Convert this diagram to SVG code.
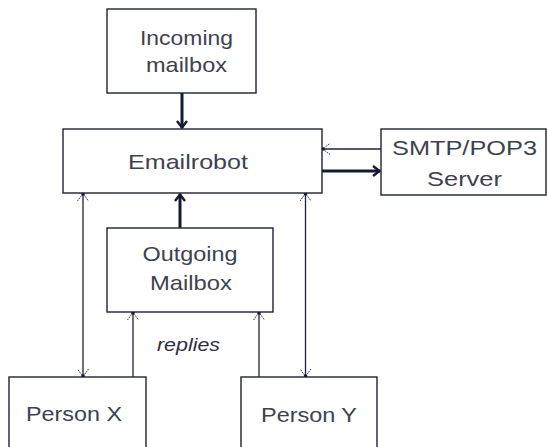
<svg xmlns="http://www.w3.org/2000/svg" width="548" height="447" viewBox="0 0 548 447">
  <style>
    .box { fill: #ffffff; stroke: #1e2238; stroke-width: 1.4; }
    .lbl { font-family: "Liberation Sans", Arial, sans-serif; font-size: 21px; fill: #3e4250; text-anchor: middle; }
    .note { font-family: "Liberation Sans", Arial, sans-serif; font-size: 18px; font-style: italic; fill: #2e3240; text-anchor: middle; }
    .thin { fill: none; stroke: #1e2238; stroke-width: 1.3; }
    .thick { fill: none; stroke: #161a30; stroke-width: 3; }
  </style>
  <defs>
    <!-- light open arrowhead with a dot at the tip, for thin connectors -->
    <marker id="tipThin" viewBox="-10 -6 12 12" refX="0" refY="0" markerWidth="12" markerHeight="12" markerUnits="userSpaceOnUse" orient="auto-start-reverse">
      <path d="M -8 -5.5 L -0.5 0 L -8 5.5" fill="none" stroke="#2a2e44" stroke-width="1" stroke-dasharray="1.6 1"/>
      <circle cx="-1" cy="0" r="1.8" fill="#161a30"/>
    </marker>
    <!-- solid open arrowhead for thick connectors -->
    <marker id="tipThick" viewBox="-10 -6 12 12" refX="0" refY="0" markerWidth="12" markerHeight="12" markerUnits="userSpaceOnUse" orient="auto">
      <path d="M -7 -5 L -0.5 0 L -7 5" fill="none" stroke="#161a30" stroke-width="2.4"/>
    </marker>
  </defs>

  <g id="connectors">
    <line class="thick" x1="182" y1="93" x2="182" y2="128" marker-end="url(#tipThick)"/>
    <line class="thin" x1="381" y1="149" x2="322" y2="149" marker-end="url(#tipThin)"/>
    <line class="thick" x1="322" y1="171" x2="380" y2="171" marker-end="url(#tipThick)"/>
    <line class="thick" x1="180" y1="228" x2="180" y2="194" marker-end="url(#tipThick)"/>
    <line class="thin" x1="83" y1="193" x2="83" y2="377" marker-start="url(#tipThin)" marker-end="url(#tipThin)"/>
    <line class="thin" x1="133" y1="377" x2="133" y2="312" marker-end="url(#tipThin)"/>
    <line class="thin" x1="259" y1="377" x2="259" y2="312" marker-end="url(#tipThin)"/>
    <line class="thin" x1="305.5" y1="193" x2="305.5" y2="377" marker-start="url(#tipThin)" marker-end="url(#tipThin)"/>
  </g>

  <g id="incoming-mailbox">
    <rect class="box" x="107" y="9" width="149" height="84"/>
    <text class="lbl" x="186.5" y="45" textLength="93" lengthAdjust="spacingAndGlyphs">Incoming</text>
    <text class="lbl" x="186.5" y="72" textLength="81" lengthAdjust="spacingAndGlyphs">mailbox</text>
  </g>

  <g id="emailrobot">
    <rect class="box" x="63" y="129" width="259" height="64"/>
    <text class="lbl" x="188" y="169" textLength="120" lengthAdjust="spacingAndGlyphs">Emailrobot</text>
  </g>

  <g id="smtp-pop3-server">
    <rect class="box" x="381" y="129" width="165" height="66"/>
    <text class="lbl" x="464.5" y="155" textLength="145" lengthAdjust="spacingAndGlyphs">SMTP/POP3</text>
    <text class="lbl" x="464.5" y="186" textLength="75" lengthAdjust="spacingAndGlyphs">Server</text>
  </g>

  <g id="outgoing-mailbox">
    <rect class="box" x="107" y="228" width="166" height="84"/>
    <text class="lbl" x="190" y="261" textLength="95" lengthAdjust="spacingAndGlyphs">Outgoing</text>
    <text class="lbl" x="191" y="290" textLength="82" lengthAdjust="spacingAndGlyphs">Mailbox</text>
  </g>

  <g id="replies-label">
    <text class="note" x="188.5" y="351" textLength="63" lengthAdjust="spacingAndGlyphs">replies</text>
  </g>

  <g id="person-x">
    <rect class="box" x="9" y="377" width="137" height="80"/>
    <text class="lbl" x="74" y="421" textLength="96" lengthAdjust="spacingAndGlyphs">Person X</text>
  </g>

  <g id="person-y">
    <rect class="box" x="241" y="377" width="136" height="80"/>
    <text class="lbl" x="309" y="422" textLength="96" lengthAdjust="spacingAndGlyphs">Person Y</text>
  </g>
</svg>
